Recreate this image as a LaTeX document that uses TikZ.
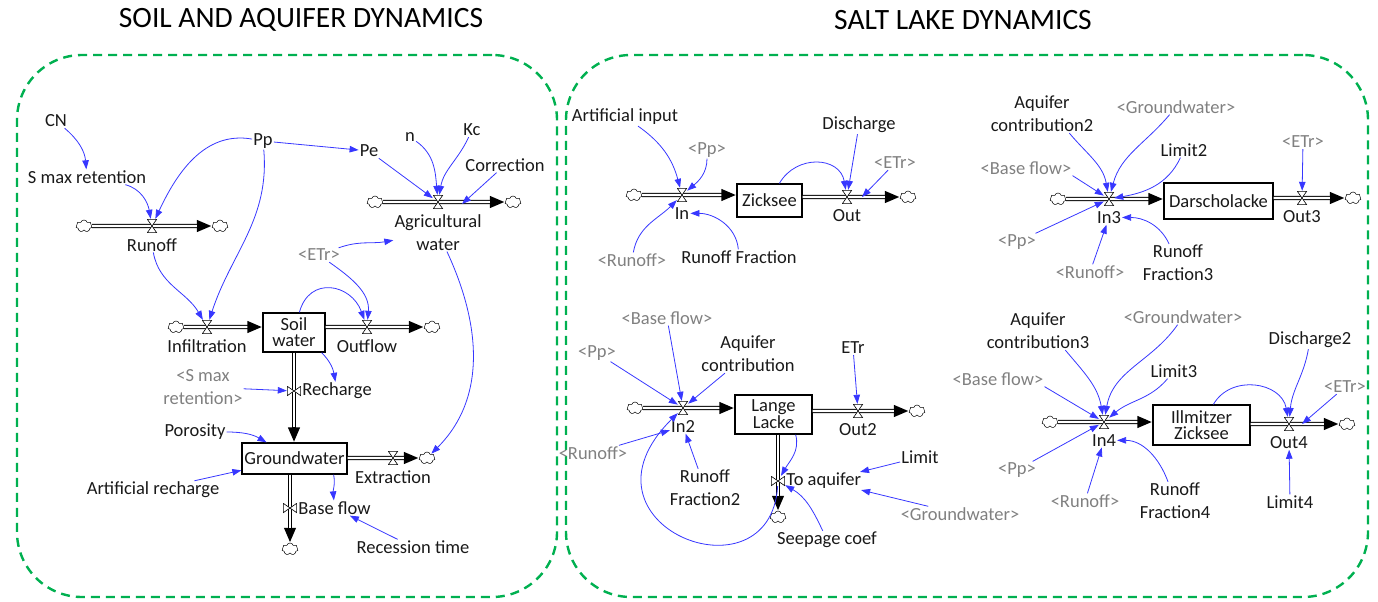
\documentclass[tikz,border=0pt]{standalone}
\usepackage{fontspec}
\setmainfont{Carlito}
\usetikzlibrary{arrows.meta, positioning, shapes.symbols}
\definecolor{panelgreen}{RGB}{0,176,80}
\definecolor{infl}{RGB}{55,55,255}
\definecolor{shadow}{RGB}{128,128,128}
\definecolor{txt}{RGB}{25,25,25}
\newcommand{\lblfont}{\fontsize{18.5}{23}\selectfont}
\newcommand{\stockfont}{\fontsize{18.5}{16}\selectfont}

\begin{document}
\begin{tikzpicture}[
  x=1pt, y=1pt,
  lbl/.style={font=\lblfont, text=txt, inner sep=1pt, align=center},
  shd/.style={lbl, text=shadow},
  title/.style={font=\fontsize{29.5}{32}\selectfont, text=black, inner sep=1pt},
  panel/.style={draw=panelgreen, line width=2.4pt, dash pattern=on 9pt off 6pt, rounded corners=65pt},
  stock/.style={draw, line width=1.3pt, fill=white, font=\stockfont, text=txt, inner sep=0pt, align=center},
  cld/.style={cloud, cloud puffs=7, aspect=1.4, draw, line width=0.5pt, fill=white,
    minimum width=16pt, minimum height=12pt, inner sep=0pt},
  valve/.style={minimum width=10pt, minimum height=14pt, inner sep=0pt,
    path picture={\filldraw[fill=white, draw=black, line width=0.6pt]
      ([shift={(0.4pt,-0.4pt)}]path picture bounding box.north west) --
      ([shift={(-0.4pt,-0.4pt)}]path picture bounding box.north east) --
      ([shift={(0.4pt,0.4pt)}]path picture bounding box.south west) --
      ([shift={(-0.4pt,0.4pt)}]path picture bounding box.south east) -- cycle;}},
  valvev/.style={minimum width=14pt, minimum height=10pt, inner sep=0pt,
    path picture={\filldraw[fill=white, draw=black, line width=0.6pt]
      ([shift={(0.4pt,-0.4pt)}]path picture bounding box.north west) --
      ([shift={(0.4pt,0.4pt)}]path picture bounding box.south west) --
      ([shift={(-0.4pt,-0.4pt)}]path picture bounding box.north east) --
      ([shift={(-0.4pt,0.4pt)}]path picture bounding box.south east) -- cycle;}},
  pipe/.style={draw=black, line width=4.4pt, -{Triangle[length=15pt,width=11pt]},
    postaction={draw=white, line width=2.2pt, arrows=-, shorten >=15pt}},
  inf/.style={draw=infl, line width=0.8pt, -{Triangle[length=9pt,width=6.5pt]}}
]
\useasboundingbox (0,0) rectangle (1378,-602);

% panels and titles
\node[panel, minimum width=540pt, minimum height=542pt] (soilPanel) at (287,-326) {};
\node[panel, minimum width=802pt, minimum height=542pt] (lakePanel) at (967,-326) {};
\node[title] (soilTitle) at (301,-20) {SOIL AND AQUIFER DYNAMICS};
\node[title] (lakeTitle) at (963,-20) {SALT LAKE DYNAMICS};

% ---------------- soil and aquifer ----------------
\node[stock, minimum width=62pt, minimum height=39pt] (SoilW) at (294,-332.5) {Soil\\water};
\node[stock, minimum width=105pt, minimum height=31pt] (GW) at (294.5,-458.5) {Groundwater};

\node[cld] (cRun1) at (84,-226) {};
\node[cld] (cRun2) at (220,-226) {};
\node[cld] (cAgr1) at (375,-202) {};
\node[cld] (cAgr2) at (513,-202) {};
\node[cld] (cInf) at (176,-327) {};
\node[cld] (cOut) at (432,-327) {};
\node[cld] (cExt) at (427,-458) {};
\node[cld] (cBase) at (290,-549) {};

\draw[pipe] (cRun1) -- (cRun2);
\draw[pipe] (cAgr1) -- (cAgr2);
\draw[pipe] (cInf) -- (cInf -| SoilW.west);
\draw[pipe] (SoilW.east |- cOut) -- (cOut);
\draw[pipe] (SoilW.south) -- (SoilW.south |- GW.north);
\draw[pipe] (GW.east |- cExt) -- (cExt);
\draw[pipe] (GW.south -| cBase) -- (cBase);

\node[valve] (vRun) at (152,-226) {};
\node[valve] (vAgr) at (438,-202) {};
\node[valve] (vInf) at (207,-327) {};
\node[valve] (vOut) at (367,-327) {};
\node[valvev] (vRec) at (294,-391) {};
\node[valve] (vExt) at (393,-458) {};
\node[valvev] (vBase) at (290,-508) {};

\node[lbl, below=4pt of vRun] (Runoff) {Runoff};
\node[lbl, below=4pt of vAgr] (AgrW) {Agricultural\\water};
\node[lbl, below=4pt of vInf] (Infil) {Infiltration};
\node[lbl, below=4pt of vOut] (Outflow) {Outflow};
\node[lbl, right=0pt of vRec] (Rech) {Recharge};
\node[lbl, below=4pt of vExt] (Extr) {Extraction};
\node[lbl, right=0pt of vBase] (BaseF) {Base flow};

\node[lbl] (CN) at (56,-121) {CN};
\node[lbl] (Smax) at (87,-177) {S max retention};
\node[lbl] (Pp) at (263,-141) {Pp};
\node[lbl] (Pe) at (369,-151) {Pe};
\node[lbl] (nExp) at (410,-137) {n};
\node[lbl] (Kc) at (472,-130) {Kc};
\node[lbl] (Corr) at (505,-165) {Correction};
\node[shd] (ETrA) at (319,-255) {<ETr>};
\node[shd] (SmaxS) at (203,-387) {<S max\\retention>};
\node[lbl] (Poro) at (195,-432) {Porosity};
\node[lbl] (ArtRec) at (153,-490) {Artificial recharge};
\node[lbl] (RecT) at (413,-547) {Recession time};
\coordinate (pAgr) at (462,-204);

\draw[inf] (CN) to[out=-40, in=95] (Smax);
\draw[inf] ([xshift=-22pt]Smax.south east) to[out=-15, in=100] (vRun);
\draw[inf] (Pp) to[out=170, in=65] (vRun);
\draw[inf] (Pp) -- (Pe);
\draw[inf] (Pp) to[out=-85, in=72] (vInf);
\draw[inf] (Runoff) to[out=-80, in=120] (vInf);
\draw[inf] (Pe) -- (vAgr);
\draw[inf] (nExp) to[out=-35, in=95] (vAgr);
\draw[inf] (Kc) to[out=-115, in=80] (vAgr);
\draw[inf] (Corr) -- (pAgr);
\draw[inf] (ETrA) to[out=20, in=190] (AgrW);
\draw[inf] (ETrA) to[out=-35, in=85] (vOut);
\draw[inf] (SoilW) to[out=75, in=110, looseness=1.5] (vOut);
\draw[inf] ([xshift=-4pt]SoilW.south east) to[out=-45, in=100] (Rech);
\draw[inf] (SmaxS) -- (vRec);
\draw[inf] (Poro) to[out=0, in=150] (GW);
\draw[inf] (ArtRec) -- (GW);
\draw[inf] (AgrW) to[out=-65, in=45] (cExt);
\draw[inf] ([xshift=-14pt]GW.south east) to[out=-80, in=95] (BaseF);
\draw[inf] (RecT) -- (BaseF);

% ---------------- Zicksee ----------------
\node[stock, minimum width=65pt, minimum height=33pt] (Zick) at (769.5,-200.5) {Zicksee};
\node[cld] (cZ1) at (634,-195) {};
\node[cld] (cZ2) at (908,-197) {};
\draw[pipe] (cZ1) -- (cZ1 -| Zick.west);
\draw[pipe] (Zick.east |- cZ2) -- (cZ2);
\node[valve] (vIn) at (682,-195) {};
\node[valve] (vOutZ) at (847,-197) {};
\node[lbl, below=4pt of vIn] (InZ) {In};
\node[lbl, below=4pt of vOutZ] (OutZ) {Out};
\node[lbl] (ArtIn) at (625,-117) {Artificial input};
\node[shd] (PpZ) at (707,-150) {<Pp>};
\node[shd] (RunZ) at (632,-260) {<Runoff>};
\node[lbl] (RunFr) at (739,-257) {Runoff Fraction};
\node[lbl] (Disch) at (859,-125) {Discharge};
\node[shd] (ETrZ) at (895,-163) {<ETr>};
\coordinate (pOutZ) at (862,-197);

\draw[inf] (ArtIn) to[out=-35, in=105] (vIn);
\draw[inf] (PpZ) to[out=-90, in=40] (vIn);
\draw[inf] (RunZ) to[out=80, in=225] (vIn);
\draw[inf] (RunFr) to[out=95, in=0] (InZ);
\draw[inf] (Zick) to[out=60, in=100, looseness=1.3] (vOutZ);
\draw[inf] (Disch) -- (vOutZ);
\draw[inf] (ETrZ) -- (pOutZ);

% ---------------- Darscholacke ----------------
\node[stock, minimum width=109pt, minimum height=36pt] (Dars) at (1218.5,-201) {Darscholacke};
\node[cld] (cD1) at (1058,-199) {};
\node[cld] (cD2) at (1353,-198) {};
\draw[pipe] (cD1) -- (cD1 -| Dars.west);
\draw[pipe] (Dars.east |- cD2) -- (cD2);
\node[valve] (vIn3) at (1109,-199) {};
\node[valve] (vOut3) at (1302,-198) {};
\node[lbl, below=4pt of vIn3] (In3) {In3};
\node[lbl, below=4pt of vOut3] (Out3) {Out3};
\node[lbl] (AqC2) at (1042,-114) {Aquifer\\contribution2};
\node[shd] (GwD) at (1176,-107) {<Groundwater>};
\node[lbl] (Lim2) at (1184,-150) {Limit2};
\node[shd] (BaseD) at (1026,-168) {<Base flow>};
\node[shd] (PpD) at (1017,-242) {<Pp>};
\node[shd] (RunD) at (1090,-272) {<Runoff>};
\node[lbl] (RF3) at (1178,-263) {Runoff\\Fraction3};
\node[shd] (ETrD) at (1303,-142) {<ETr>};

\draw[inf] (AqC2.-35) to[out=-50, in=100] (vIn3);
\draw[inf] (GwD) to[out=-130, in=75] (vIn3);
\draw[inf] (Lim2) to[out=-115, in=10] (vIn3);
\draw[inf] (BaseD.south east) -- (vIn3);
\draw[inf] (PpD) -- (vIn3);
\draw[inf] (RunD) -- (In3);
\draw[inf] (RF3) to[out=115, in=0] (In3);
\draw[inf] (ETrD) -- (vOut3);

% ---------------- Lange Lacke ----------------
\node[stock, minimum width=77pt, minimum height=39pt] (Lange) at (773.5,-414.5) {Lange\\Lacke};
\node[cld] (cL1) at (635,-408) {};
\node[cld] (cL2) at (917,-411) {};
\node[cld] (cL3) at (778,-517) {};
\draw[pipe] (cL1) -- (cL1 -| Lange.west);
\draw[pipe] (Lange.east |- cL2) -- (cL2);
\draw[pipe] (Lange.south -| cL3) -- (cL3);
\node[valve] (vIn2) at (683,-408) {};
\node[valve] (vOut2) at (858,-411) {};
\node[valvev] (vToA) at (778,-481) {};
\node[lbl, below=4pt of vIn2] (In2) {In2};
\node[lbl, below=4pt of vOut2] (Out2) {Out2};
\node[lbl, right=0pt of vToA] (ToA) {To aquifer};
\node[lbl] (ETrL) at (853,-348) {ETr};
\node[shd] (BaseL) at (667,-318) {<Base flow>};
\node[shd] (PpL) at (597,-353) {<Pp>};
\node[lbl] (AqC) at (748,-354) {Aquifer\\contribution};
\node[shd] (RunL) at (593,-453) {<Runoff>};
\node[lbl] (RF2) at (705,-488) {Runoff\\Fraction2};
\node[lbl] (Lim) at (920,-457) {Limit};
\node[shd] (GwL) at (960,-514) {<Groundwater>};
\node[lbl] (Seep) at (827,-540) {Seepage coef};

\draw[inf] (BaseL) -- (vIn2);
\draw[inf] (PpL) -- (vIn2);
\draw[inf] (AqC) -- (vIn2);
\draw[inf] (RunL) -- (In2);
\draw[inf] (RF2) -- (In2);
\draw[inf] (ETrL) -- (vOut2);
\draw[inf] ([xshift=-17pt]Lange.south east) to[out=-75, in=60] (vToA);
\draw[inf] (Lim) -- (ToA);
\draw[inf] (GwL) -- (ToA);
\draw[inf] (Seep) to[out=115, in=-30] (vToA);
\draw[inf] (vToA) .. controls (770,-605) and (565,-525) .. (vIn2);

% ---------------- Illmitzer Zicksee ----------------
\node[stock, minimum width=97pt, minimum height=40pt] (Ill) at (1201.5,-425) {Illmitzer\\Zicksee};
\node[cld] (cI1) at (1050,-422) {};
\node[cld] (cI2) at (1347,-424) {};
\draw[pipe] (cI1) -- (cI1 -| Ill.west);
\draw[pipe] (Ill.east |- cI2) -- (cI2);
\node[valve] (vIn4) at (1104,-422) {};
\node[valve] (vOut4) at (1289,-424) {};
\node[lbl, below=4pt of vIn4] (In4) {In4};
\node[lbl, below=4pt of vOut4] (Out4) {Out4};
\node[lbl] (AqC3) at (1038,-331) {Aquifer\\contribution3};
\node[shd] (GwI) at (1183,-317) {<Groundwater>};
\node[lbl] (Lim3) at (1174,-371) {Limit3};
\node[shd] (BaseI) at (998,-379) {<Base flow>};
\node[shd] (PpI) at (1017,-470) {<Pp>};
\node[shd] (RunI) at (1085,-501) {<Runoff>};
\node[lbl] (RF4) at (1175,-501) {Runoff\\Fraction4};
\node[lbl] (Disch2) at (1310,-340) {Discharge2};
\node[shd] (ETrI) at (1345,-387) {<ETr>};
\node[lbl] (Lim4) at (1290,-502) {Limit4};
\coordinate (pOut4) at (1302,-424);

\draw[inf] (AqC3.-35) to[out=-50, in=100] (vIn4);
\draw[inf] (GwI) to[out=-125, in=80] (vIn4);
\draw[inf] (Lim3) to[out=-130, in=40] (vIn4);
\draw[inf] (BaseI.south east) -- (vIn4);
\draw[inf] (PpI) -- (vIn4);
\draw[inf] (RunI) -- (In4);
\draw[inf] (RF4) to[out=110, in=0] (In4);
\draw[inf] (Ill) to[out=60, in=100, looseness=1.2] (vOut4);
\draw[inf] (Disch2) to[out=-100, in=85] (vOut4);
\draw[inf] (ETrI) -- (pOut4);
\draw[inf] (Lim4) -- (Out4);
\end{tikzpicture}
\end{document}
